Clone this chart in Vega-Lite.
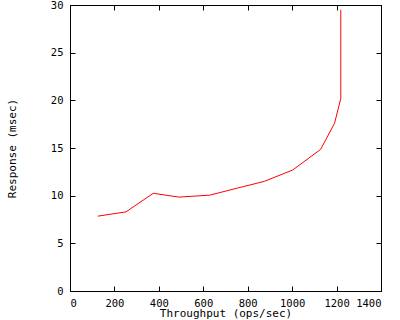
{
  "$schema": "https://vega.github.io/schema/vega-lite/v6.json",
  "width": 311,
  "height": 286,
  "autosize": {"type": "none"},
  "padding": {"left": 70, "top": 5, "right": 19, "bottom": 29},
  "background": "white",
  "config": {
    "font": "DejaVu Sans Mono",
    "view": {"stroke": "black", "strokeWidth": 1},
    "axis": {
      "grid": false,
      "domainColor": "black",
      "tickColor": "black",
      "tickSize": -5,
      "labelOverlap": false,
      "labelFont": "DejaVu Sans Mono",
      "labelFontSize": 10.5,
      "labelColor": "black",
      "titleFont": "DejaVu Sans Mono",
      "titleFontSize": 11,
      "titleFontWeight": "normal",
      "titleColor": "black"
    }
  },
  "data": {
    "values": [
      {"n": 1, "throughput": 125, "response": 7.85},
      {"n": 2, "throughput": 252, "response": 8.3},
      {"n": 3, "throughput": 375, "response": 10.25},
      {"n": 4, "throughput": 490, "response": 9.85},
      {"n": 5, "throughput": 628, "response": 10.05},
      {"n": 6, "throughput": 755, "response": 10.8},
      {"n": 7, "throughput": 875, "response": 11.5},
      {"n": 8, "throughput": 1003, "response": 12.7},
      {"n": 9, "throughput": 1128, "response": 14.85},
      {"n": 10, "throughput": 1191, "response": 17.6},
      {"n": 11, "throughput": 1219, "response": 20.2},
      {"n": 12, "throughput": 1219, "response": 29.5}
    ]
  },
  "layer": [
    {
      "mark": {"type": "line", "color": "#ff0000", "strokeWidth": 1},
      "encoding": {
        "x": {
          "field": "throughput", "type": "quantitative",
          "scale": {"domain": [0, 1400], "nice": false},
          "axis": {"orient": "bottom", "values": [0, 200, 400, 600, 800, 1000, 1200, 1400], "format": "d", "labelOverlap": false, "labelPadding": 12, "title": "Throughput (ops/sec)", "titleY": 22.5, "titleBaseline": "middle"}
        },
        "y": {
          "field": "response", "type": "quantitative",
          "scale": {"domain": [0, 30], "nice": false},
          "axis": {"orient": "left", "values": [0, 5, 10, 15, 20, 25, 30], "format": "d", "labelPadding": 12, "title": "Response (msec)", "titleX": -58, "titleBaseline": "middle"}
        },
        "order": {"field": "n", "type": "quantitative"}
      }
    },
    {
      "mark": {"type": "line", "opacity": 0},
      "encoding": {
        "x": {
          "field": "throughput", "type": "quantitative",
          "axis": {"orient": "top", "values": [0, 200, 400, 600, 800, 1000, 1200, 1400], "labels": false, "title": null}
        },
        "y": {
          "field": "response", "type": "quantitative",
          "axis": {"orient": "right", "values": [0, 5, 10, 15, 20, 25, 30], "labels": false, "title": null}
        },
        "order": {"field": "n", "type": "quantitative"}
      }
    }
  ],
  "resolve": {"axis": {"x": "independent", "y": "independent"}}
}
